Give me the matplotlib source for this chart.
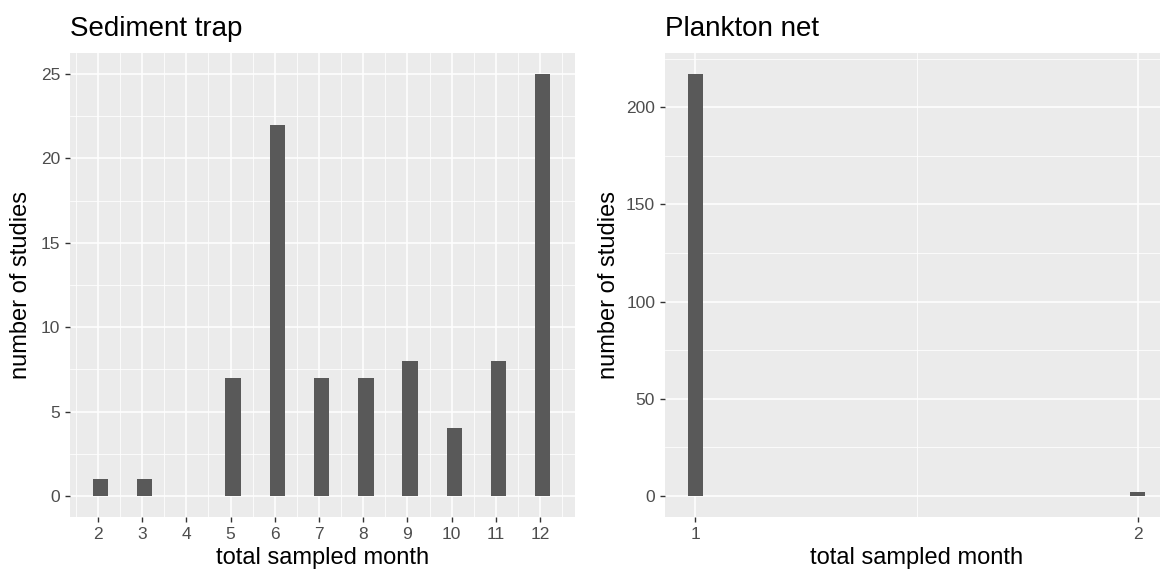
import matplotlib
matplotlib.use("Agg")
import matplotlib.pyplot as plt
import numpy as np

# --- data ---
trap_months = [2, 3, 4, 5, 6, 7, 8, 9, 10, 11, 12]
trap_counts = [1, 1, 0, 7, 22, 7, 7, 8, 4, 8, 25]
net_months = [1, 2]
net_counts = [217, 2]

plt.rcParams['font.family'] = ['Liberation Sans', 'DejaVu Sans']

BG = "#EBEBEB"
BAR = "#595959"
W, H = 1160, 569

fig = plt.figure(figsize=(W / 100, H / 100), dpi=100)


def px_axes(x0, x1, y0, y1):
    return fig.add_axes([x0 / W, 1 - y1 / H, (x1 - x0) / W, (y1 - y0) / H])


def ggstyle(ax, xmajor, xminor, ymajor, yminor):
    ax.set_facecolor(BG)
    for s in ax.spines.values():
        s.set_visible(False)
    ax.set_xticks(xmajor)
    ax.set_xticks(xminor, minor=True)
    ax.set_yticks(ymajor)
    ax.set_yticks(yminor, minor=True)
    ax.grid(True, which="major", color="white", lw=1.1)
    ax.grid(True, which="minor", color="white", lw=0.55)
    ax.set_axisbelow(True)
    ax.tick_params(which="major", length=3.6, width=1.0, color="#333333",
                   labelcolor="#4D4D4D", labelsize=12.5, pad=3.5)
    ax.tick_params(which="minor", length=0)


# --- left panel: sediment trap ---
ax1 = px_axes(70, 575, 53, 517)
ax1.bar(np.array(trap_months) + 0.06, trap_counts, width=0.35, color=BAR, zorder=3)
ax1.set_xlim(1.37, 12.79)
ax1.set_ylim(-1.25, 26.25)
ggstyle(ax1, trap_months, np.arange(1.5, 13, 1), np.arange(0, 26, 5),
        np.arange(2.5, 26, 5))
ax1.set_xlabel("total sampled month", fontsize=17, labelpad=4)
ax1.set_ylabel("number of studies", fontsize=17, labelpad=6)
ax1.set_title("Sediment trap", loc="left", fontsize=20, pad=12)

# --- right panel: plankton net ---
ax2 = px_axes(665, 1168, 53, 517)
ax2.bar(net_months, net_counts, width=0.034, color=BAR, zorder=3)
ax2.set_xlim(0.931, 2.069)
ax2.set_ylim(-10.85, 227.85)
ggstyle(ax2, net_months, [1.5], np.arange(0, 201, 50), np.arange(25, 226, 50))
ax2.set_xlabel("total sampled month", fontsize=17, labelpad=4)
ax2.set_ylabel("number of studies", fontsize=17, labelpad=4)
ax2.set_title("Plankton net", loc="left", fontsize=20, pad=12)

fig.savefig("out.png", dpi=100, facecolor="white")
